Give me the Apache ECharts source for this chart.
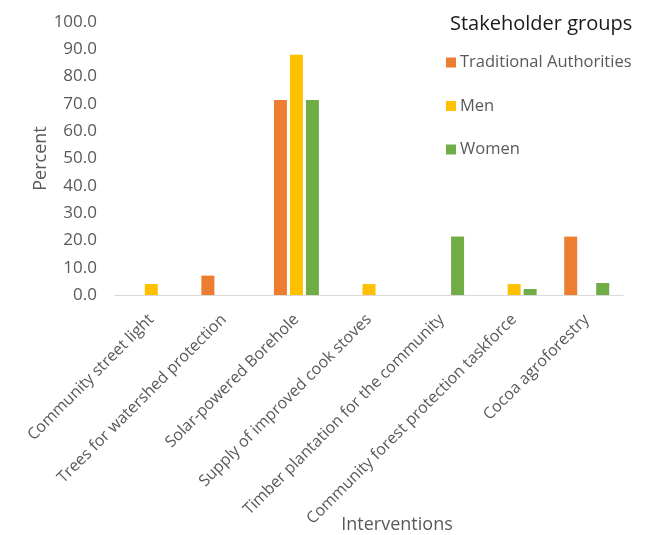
<!DOCTYPE html>
<html>
<head>
<meta charset="utf-8">
<script src="https://cdn.jsdelivr.net/npm/echarts@6/dist/echarts.min.js"></script>
<style>
html,body{margin:0;padding:0;background:#fff;overflow:hidden;}
#chart{width:663px;height:535px;}
</style>
</head>
<body>
<div id="chart"></div>
<script>
var categories = [
  "Community street light",
  "Trees for watershed protection",
  "Solar-powered Borehole",
  "Supply of improved cook stoves",
  "Timber plantation for the community",
  "Community forest protection taskforce",
  "Cocoa agroforestry"
];
var seriesNames = ["Traditional Authorities", "Men", "Women"];
var traditionalAuthorities = [0, 7.1, 71.4, 0, 0, 0, 21.4];
var men = [4.0, 0, 88.0, 4.0, 0, 4.0, 0];
var women = [0, 0, 71.4, 0, 21.4, 2.2, 4.4];
var yTicks = [0, 10, 20, 30, 40, 50, 60, 70, 80, 90, 100];

var colors = ["#ED7D31", "#FFC000", "#70AD47"];
var FONT = "Open Sans";
var chart = echarts.init(document.getElementById("chart"), null, {renderer: "canvas"});

var values = [traditionalAuthorities, men, women];
var option = {
  animation: false,
  color: colors,
  textStyle: {fontFamily: FONT},
  title: {
    text: "Stakeholder groups",
    left: 445,
    top: 9,
    textStyle: {fontFamily: FONT, fontSize: 20, fontWeight: "normal", color: "#1a1a1a"}
  },
  legend: {
    orient: "vertical",
    left: 441,
    top: 49,
    itemWidth: 10,
    itemHeight: 10,
    itemGap: 26.5,
    icon: "rect",
    data: seriesNames,
    textStyle: {fontFamily: FONT, fontSize: 16.5, color: "#595959", padding: [0, 0, 0, -1]}
  },
  grid: {left: 115, right: 40, top: 22, bottom: 240, containLabel: false, outerBoundsMode: "none"},
  xAxis: {
    type: "category",
    data: categories,
    name: "Interventions",
    nameLocation: "middle",
    nameGap: 221,
    nameMoveOverlap: false,
    nameTextStyle: {fontFamily: FONT, fontSize: 18, color: "#595959", padding: [0, 0, 0, 56]},
    axisLine: {show: true, lineStyle: {color: "#D9D9D9", width: 1}},
    axisTick: {show: false},
    axisLabel: {interval: 0, rotate: 45, margin: 22, fontFamily: FONT, fontSize: 16, color: "#595959"}
  },
  yAxis: {
    type: "value",
    min: yTicks[0],
    max: yTicks[yTicks.length - 1],
    interval: yTicks[1] - yTicks[0],
    name: "Percent",
    nameLocation: "middle",
    nameGap: 65,
    nameMoveOverlap: false,
    nameTextStyle: {fontFamily: FONT, fontSize: 18, color: "#595959"},
    axisLine: {show: false},
    axisTick: {show: false},
    splitLine: {show: false},
    axisLabel: {margin: 18, fontFamily: FONT, fontSize: 17, color: "#595959",
      formatter: function (v) { return v.toFixed(1); }}
  },
  series: seriesNames.map(function (n, i) {
    return {
      name: n,
      type: "bar",
      data: values[i],
      barWidth: 13,
      barGap: "23%",
      itemStyle: {color: colors[i]}
    };
  })
};
chart.setOption(option);
</script>
</body>
</html>
